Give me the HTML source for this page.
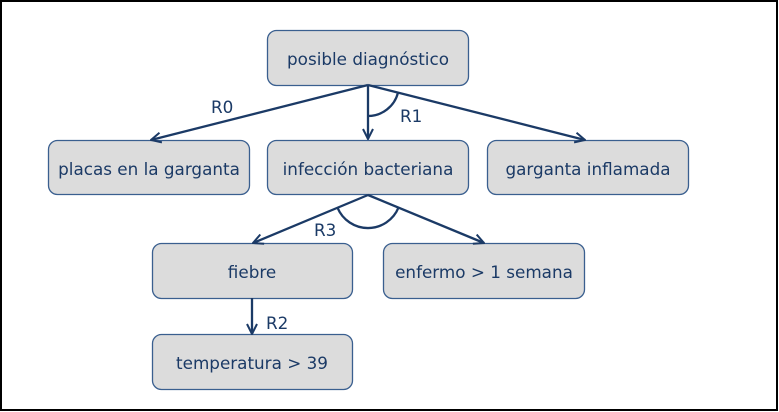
<!DOCTYPE html>
<html><head><meta charset="utf-8"><style>
html,body{margin:0;padding:0;background:#fff}
svg{display:block}
text{font-family:"DejaVu Sans","Liberation Sans",sans-serif;font-size:16.8px;fill:#1b3a66}
</style></head><body>
<svg width="779" height="412" viewBox="0 0 779 412" xmlns="http://www.w3.org/2000/svg">
<rect x="1" y="1" width="776" height="409" fill="#fff" stroke="#000" stroke-width="2"/>
<defs><marker id="a" viewBox="0 0 12 12" refX="11" refY="6" markerWidth="12" markerHeight="12" markerUnits="userSpaceOnUse" orient="auto"><path d="M1,1 L11,6 L1,11" fill="none" stroke="#1b3a66" stroke-width="2"/></marker></defs>
<g fill="#dcdcdc" stroke="#3a5f8f" stroke-width="1.3">
<rect x="267.5" y="30.5" width="201" height="55" rx="9"/>
<rect x="48.5" y="140.5" width="201" height="54" rx="9"/>
<rect x="267.5" y="140.5" width="201" height="54" rx="9"/>
<rect x="487.5" y="140.5" width="201" height="54" rx="9"/>
<rect x="152.5" y="243.5" width="200" height="55" rx="9"/>
<rect x="383.5" y="243.5" width="201" height="55" rx="9"/>
<rect x="152.5" y="334.5" width="200" height="55" rx="9"/>
</g>
<g stroke="#1b3a66" stroke-width="2.3" fill="none">
<line x1="368" y1="85" x2="151" y2="140" marker-end="url(#a)"/>
<line x1="368" y1="85" x2="368" y2="139" marker-end="url(#a)"/>
<line x1="368" y1="85" x2="585" y2="140" marker-end="url(#a)"/>
<path d="M368,116 A31,31 0 0 0 398,92.6"/>
<line x1="368" y1="195" x2="253" y2="243" marker-end="url(#a)"/>
<line x1="368" y1="195" x2="484" y2="243" marker-end="url(#a)"/>
<path d="M337.5,207.7 A33,33 0 0 0 398.5,207.6"/>
<line x1="252" y1="298" x2="252" y2="334" marker-end="url(#a)"/>
</g>
<g text-anchor="middle">
<text x="368" y="65">posible diagnóstico</text>
<text x="149" y="175">placas en la garganta</text>
<text x="368" y="175">infección bacteriana</text>
<text x="588" y="175">garganta inflamada</text>
<text x="252" y="278">fiebre</text>
<text x="484" y="278">enfermo &gt; 1 semana</text>
<text x="252" y="369">temperatura &gt; 39</text>
</g>
<text x="211" y="113">R0</text>
<text x="400" y="122">R1</text>
<text x="314" y="236">R3</text>
<text x="266" y="329">R2</text>
</svg>
</body></html>
